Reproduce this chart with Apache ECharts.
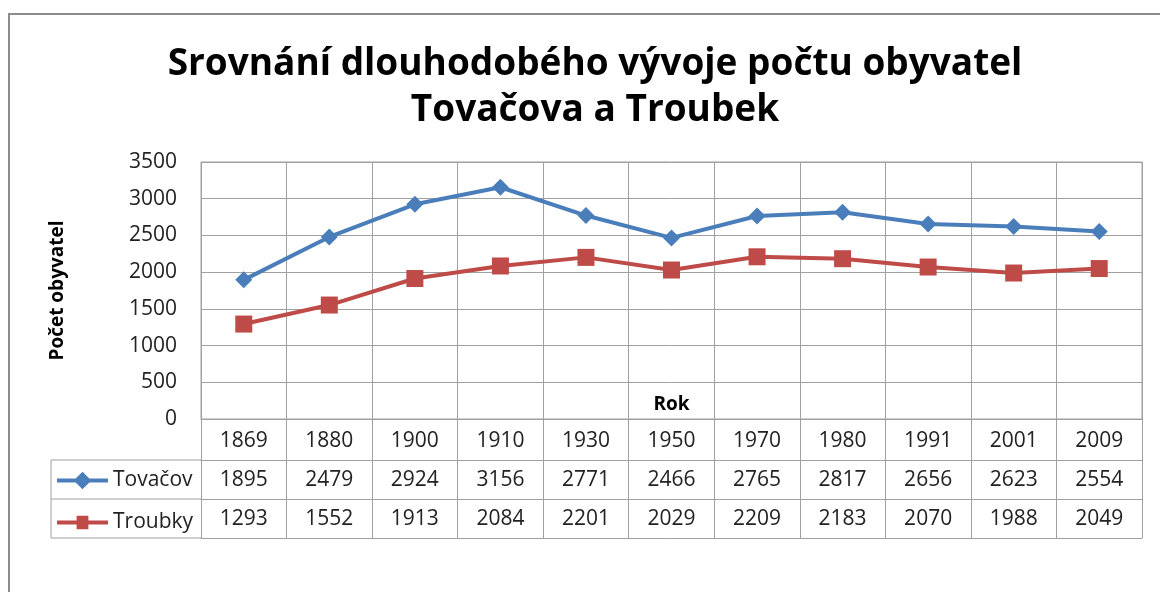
<!DOCTYPE html>
<html>
<head>
<meta charset="utf-8">
<script src="https://cdn.jsdelivr.net/npm/echarts@6/dist/echarts.min.js"></script>
<style>
  html, body { margin: 0; padding: 0; background: #fff; }
  #chart { width: 1160px; height: 592px; }
</style>
</head>
<body>
<div id="chart"></div>
<script>
var years = ['1869', '1880', '1900', '1910', '1930', '1950', '1970', '1980', '1991', '2001', '2009'];
var tovacov = [1895, 2479, 2924, 3156, 2771, 2466, 2765, 2817, 2656, 2623, 2554];
var troubky = [1293, 1552, 1913, 2084, 2201, 2029, 2209, 2183, 2070, 1988, 2049];
var yTicks = [0, 500, 1000, 1500, 2000, 2500, 3000, 3500];

var font = '"Open Sans", "Noto Sans", sans-serif';
var gridCol = '#a0a0a0';
var blue = '#4a7ebb', red = '#be4b48';
var chart = echarts.init(document.getElementById('chart'));

// legend keys: thick line with the marker in the middle (like Excel)
var keyDiamond = 'path://M0,7L19,7L26,0L33,7L52,7L52,11L33,11L26,18L19,11L0,11Z';
var keySquare = 'path://M0,7L20,7L20,2L32,2L32,7L52,7L52,11L32,11L32,16L20,16L20,11L0,11Z';

// one table row below the plot = one extra category axis
function rowAxis(offset, labels) {
  return {
    type: 'category',
    data: years,
    position: 'bottom',
    offset: offset,
    boundaryGap: true,
    axisLine: { show: true, lineStyle: { color: gridCol, width: 1 } },
    axisTick: { show: labels != null, length: 39, lineStyle: { color: gridCol } },
    axisLabel: {
      show: labels != null,
      margin: 10,
      fontFamily: font, fontSize: 21, color: '#222',
      formatter: function (v, i) { return labels ? String(labels[i]) : ''; }
    }
  };
}

option = {
  backgroundColor: '#ffffff',
  animation: false,
  title: {
    text: 'Srovnání dlouhodobého vývoje počtu obyvatel\nTovačova a Troubek',
    left: 590, top: 36, textAlign: 'center',
    textStyle: { fontFamily: font, fontSize: 37, fontWeight: 'bold', color: '#000', lineHeight: 46 }
  },
  legend: {
    orient: 'vertical',
    left: 57, top: 470, padding: 0,
    itemWidth: 51, itemHeight: 18, itemGap: 21,
    textStyle: { fontFamily: font, fontSize: 21, color: '#222', lineHeight: 18 },
    data: [
      { name: 'Tovačov', icon: keyDiamond },
      { name: 'Troubky', icon: keySquare }
    ]
  },
  grid: {
    left: 201, right: 18, top: 162, bottom: 173,
    show: true, borderColor: gridCol, borderWidth: 1
  },
  xAxis: [
    {
      type: 'category',
      data: years,
      position: 'bottom',
      boundaryGap: true,
      name: 'Rok',
      nameLocation: 'middle',
      nameGap: -24,
      nameTextStyle: { fontFamily: font, fontSize: 19, fontWeight: 'bold', color: '#000' },
      axisLine: { show: true, lineStyle: { color: gridCol } },
      axisTick: { show: true, length: 41, lineStyle: { color: gridCol } },
      axisLabel: { margin: 12, fontFamily: font, fontSize: 21, color: '#222' },
      splitLine: { show: true, lineStyle: { color: gridCol } }
    },
    rowAxis(41, tovacov),
    rowAxis(80, troubky),
    rowAxis(119, null)
  ],
  yAxis: {
    type: 'value',
    min: yTicks[0], max: yTicks[yTicks.length - 1], interval: 500,
    name: 'Počet obyvatel',
    nameLocation: 'middle',
    nameGap: 134,
    nameTextStyle: { fontFamily: font, fontSize: 19, fontWeight: 'bold', color: '#000' },
    axisLine: { show: true, lineStyle: { color: gridCol } },
    axisTick: { show: false },
    axisLabel: {
      margin: 24, fontFamily: font, fontSize: 21, color: '#222',
      formatter: function (v) { return String(v); }
    },
    splitLine: { show: true, lineStyle: { color: gridCol } }
  },
  series: [
    {
      name: 'Tovačov', type: 'line', data: tovacov,
      symbol: 'diamond', symbolSize: 17,
      lineStyle: { color: blue, width: 4 },
      itemStyle: { color: blue }
    },
    {
      name: 'Troubky', type: 'line', data: troubky,
      symbol: 'rect', symbolSize: 17,
      lineStyle: { color: red, width: 4 },
      itemStyle: { color: red }
    }
  ],
  graphic: [
    // outer chart frame
    { type: 'rect', shape: { x: 9, y: 14, width: 1200, height: 640 }, style: { fill: 'none', stroke: '#8c8c8c', lineWidth: 2 }, silent: true },
    // legend cell borders
    { type: 'polyline', shape: { points: [[201, 460], [51, 460], [51, 538], [201, 538]] }, style: { fill: 'none', stroke: gridCol, lineWidth: 1 }, silent: true },
    { type: 'line', shape: { x1: 51, y1: 499, x2: 201, y2: 499 }, style: { stroke: gridCol, lineWidth: 1 }, silent: true }
  ]
};

chart.setOption(option, true);
</script>
</body>
</html>
